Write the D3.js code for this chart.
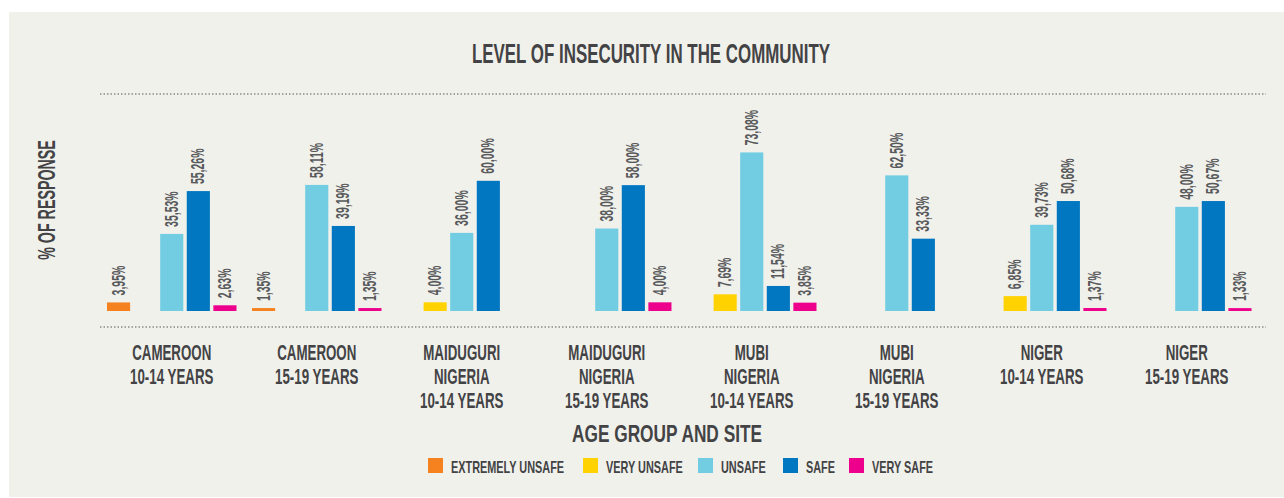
<!DOCTYPE html>
<html>
<head>
<meta charset="utf-8">
<script src="https://cdn.jsdelivr.net/npm/d3@7"></script>
<style>
  html, body { margin: 0; padding: 0; background: #fff; }
  text { font-family: "Liberation Sans Narrow", "Liberation Sans", "DejaVu Sans Condensed", sans-serif; font-weight: bold; fill: #434345; }
</style>
</head>
<body>
<svg width="1284" height="498"></svg>
<script>
// groups (site + age), one label line per entry
var groups = ["cam1014", "cam1519", "mai1014", "mai1519", "mub1014", "mub1519", "nig1014", "nig1519"];
var groupLabels = [
    ["CAMEROON", "10-14 YEARS"],
    ["CAMEROON", "15-19 YEARS"],
    ["MAIDUGURI", "NIGERIA", "10-14 YEARS"],
    ["MAIDUGURI", "NIGERIA", "15-19 YEARS"],
    ["MUBI", "NIGERIA", "10-14 YEARS"],
    ["MUBI", "NIGERIA", "15-19 YEARS"],
    ["NIGER", "10-14 YEARS"],
    ["NIGER", "15-19 YEARS"]
];
var seriesNames = ["EXTREMELY UNSAFE", "VERY UNSAFE", "UNSAFE", "SAFE", "VERY SAFE"];
var seriesColors = ["#f5821f", "#ffd200", "#72cde2", "#0077c0", "#ec008c"];

// % of response, null = no answer in that category
var extremelyUnsafe = [3.95, 1.35, null, null, null, null, null, null];
var veryUnsafe      = [null, null, 4.00, null, 7.69, null, 6.85, null];
var unsafe          = [35.53, 58.11, 36.00, 38.00, 73.08, 62.50, 39.73, 48.00];
var safe            = [55.26, 39.19, 60.00, 58.00, 11.54, 33.33, 50.68, 50.67];
var verySafe        = [2.63, 1.35, null, 4.00, 3.85, null, 1.37, 1.33];

var seriesValues = [extremelyUnsafe, veryUnsafe, unsafe, safe, verySafe];

var svg = d3.select("svg");

// the original uses a very narrow display face, so squeeze text horizontally
// pos = "translate(..)" plus optional rotate, k = horizontal squeeze
function narrow(pos, k) {
    return pos + " scale(" + k + ",1)";
}

svg.append("rect")
    .attr("x", 9).attr("y", 12)
    .attr("width", 1275).attr("height", 485)
    .attr("fill", "#f1f1ec");

var x0 = d3.scaleBand()
    .domain(groups)
    .range([107, 1251.5])
    .paddingInner(0.107);

var x1 = d3.scaleBand()
    .domain(seriesNames)
    .range([0, x0.bandwidth()])
    .paddingInner(0.13);

var y = d3.scaleLinear()
    .domain([0, 100])
    .range([311, 94]);

// dotted guide lines at 100% and under the bars
svg.selectAll(".guide")
    .data([100, -7.4])
    .enter().append("line")
    .attr("class", "guide")
    .attr("x1", 100).attr("x2", 1266)
    .attr("y1", d => y(d)).attr("y2", d => y(d))
    .attr("stroke", "#8a8a8a")
    .attr("stroke-width", 1.5)
    .attr("stroke-dasharray", "1.5,2");

var cells = [];
groups.forEach(function (g, gi) {
    seriesNames.forEach(function (s, si) {
        var v = seriesValues[si][gi];
        if (v != null) cells.push({ group: g, series: s, color: seriesColors[si], value: v });
    });
});

var bar = svg.append("g").selectAll("g")
    .data(cells)
    .enter().append("g")
    .attr("transform", d => "translate(" + (x0(d.group) + x1(d.series)) + ",0)");

bar.append("rect")
    .attr("y", d => y(d.value))
    .attr("width", x1.bandwidth())
    .attr("height", d => y(0) - y(d.value))
    .attr("fill", d => d.color);

bar.append("text")
    .attr("transform", d => narrow("translate(" + (x1.bandwidth() / 2 + 6) + "," + (y(d.value) - 7) + ") rotate(-90)", 0.6))
    .style("font-size", "17.5px")
    .style("fill", "#58595b")
    .text(d => d.value.toFixed(2).replace(".", ",") + "%");

// group labels under the axis
svg.append("g").selectAll("text")
    .data(groupLabels.flatMap((lines, gi) => lines.map((t, li) => ({ t: t, gi: gi, li: li }))))
    .enter().append("text")
    .attr("transform", d => narrow("translate(" + (x0(groups[d.gi]) + x0.bandwidth() / 2) + "," + (360 + d.li * 24) + ")", 0.62))
    .attr("text-anchor", "middle")
    .style("font-size", "21.5px")
    .text(d => d.t);

svg.append("text")
    .attr("transform", narrow("translate(651,63)", 0.615))
    .attr("text-anchor", "middle")
    .style("font-size", "27.5px")
    .text("LEVEL OF INSECURITY IN THE COMMUNITY");

svg.append("text")
    .attr("transform", narrow("translate(667,442)", 0.72))
    .attr("text-anchor", "middle")
    .style("font-size", "24px")
    .text("AGE GROUP AND SITE");

svg.append("text")
    .attr("transform", narrow("translate(55,200) rotate(-90)", 0.62))
    .attr("text-anchor", "middle")
    .style("font-size", "23px")
    .text("% OF RESPONSE");

// legend
var legendX = [428, 583, 698, 783, 849];
var legend = svg.selectAll(".legend")
    .data(seriesNames)
    .enter().append("g")
    .attr("class", "legend")
    .attr("transform", (d, i) => "translate(" + legendX[i] + ",458)");

legend.append("rect")
    .attr("width", 15).attr("height", 15)
    .attr("fill", (d, i) => seriesColors[i]);

legend.append("text")
    .attr("transform", narrow("translate(23,15)", 0.66))
    .style("font-size", "16.5px")
    .text(d => d);
</script>
</body>
</html>
